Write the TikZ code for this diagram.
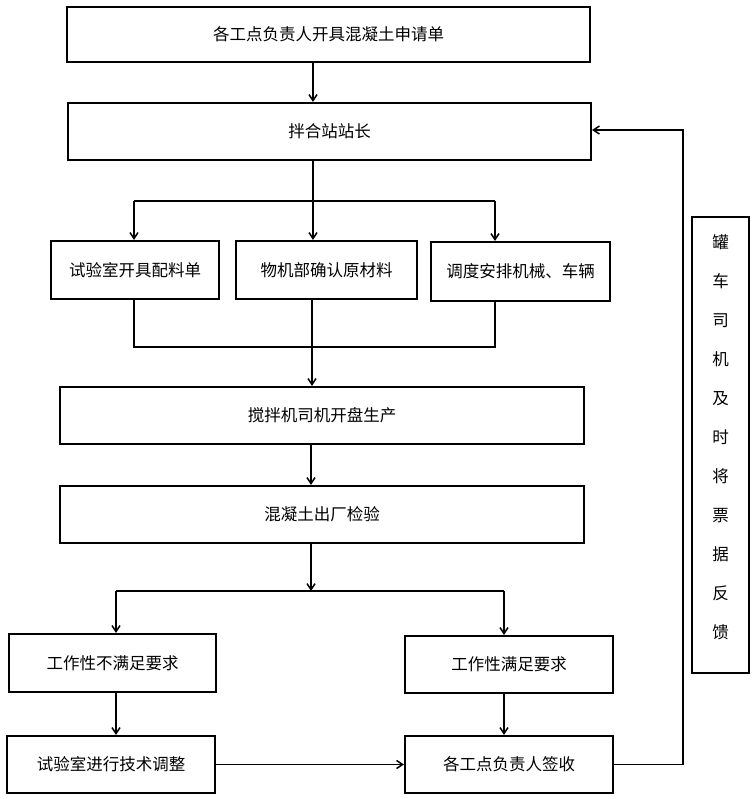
\documentclass[tikz,border=0pt]{standalone}
\usepackage{fontspec}
\setmainfont{Noto Sans CJK SC}
\usetikzlibrary{arrows.meta, positioning}

\begin{document}
\begin{tikzpicture}[x=1pt, y=-1pt, line width=1.5pt,
    >={Straight Barb[length=6pt,width=8pt]},
    box/.style={draw, rectangle, line width=2.2pt, inner sep=0pt, font=\fontsize{16.5}{16.5}\selectfont}]
    \useasboundingbox (0,0) rectangle (755,799);
            \node[box, minimum width=523, minimum height=55] (req) at (328.5,34.5) {各工点负责人开具混凝土申请单};
            \node[box, minimum width=523, minimum height=57] (head) at (329.5,131.5) {拌合站站长};
            \node[box, minimum width=168, minimum height=58] (lab) at (135,270) {试验室开具配料单};
            \node[box, minimum width=181, minimum height=58] (mat) at (326.5,270) {物机部确认原材料};
            \node[box, minimum width=179, minimum height=59] (disp) at (520.5,271.5) {调度安排机械、车辆};
            \node[box, minimum width=524, minimum height=57] (mix) at (322,415.5) {搅拌机司机开盘生产};
            \node[box, minimum width=524, minimum height=57] (qc) at (322,514.5) {混凝土出厂检验};
            \node[box, minimum width=207, minimum height=58] (fail) at (112.5,663) {工作性不满足要求};
            \node[box, minimum width=208, minimum height=57] (pass) at (509,664.5) {工作性满足要求};
            \node[box, minimum width=208, minimum height=57] (adj) at (111,764.5) {试验室进行技术调整};
            \node[box, minimum width=208, minimum height=57] (sign) at (509,764.5) {各工点负责人签收};
            \node[box, minimum width=57, minimum height=456] (fb) at (720.5,445) {};
            \node[align=center, inner sep=0pt, font=\fontsize{16.5}{39}\selectfont] (fbtext) at (720.5,437) {罐\\车\\司\\机\\及\\时\\将\\票\\据\\反\\馈};
            % junction points
            \coordinate (c1) at (313,201);
            \coordinate (c1l) at (134,201);
            \coordinate (c1r) at (495,201);
            \coordinate (c2) at (312,347);
            \coordinate (c3) at (311,591);
            \coordinate (c3l) at (116,591);
            \coordinate (c3r) at (504,591);
            \coordinate (c4) at (683,130);
            \draw[->] (req.south -| c1) -- (head.north -| c1);
            \draw (head.south -| c1) -- (c1);
            \draw (c1l) -- (c1r);
            \draw[->] (c1l) -- (lab.north -| c1l);
            \draw[->] (c1) -- (mat.north -| c1);
            \draw[->] (c1r) -- (disp.north -| c1r);
            \draw (lab.south -| c1l) -- (c2 -| c1l) -- (c2 -| c1r) -- (disp.south -| c1r);
            \draw (mat.south -| c2) -- (c2);
            \draw[->] (c2) -- (mix.north -| c2);
            \draw[->] (mix.south -| c3) -- (qc.north -| c3);
            \draw[->] (qc.south -| c3) -- (c3);
            \draw (c3l) -- (c3r);
            \draw[->] (c3l) -- (fail.north -| c3l);
            \draw[->] (c3r) -- (pass.north -| c3r);
            \draw[->] (fail.south -| c3l) -- (adj.north -| c3l);
            \draw[->] (pass.south -| c3r) -- (sign.north -| c3r);
            \draw[->] (adj) -- (sign);
            \draw[->] (sign.east) -- (sign.east -| c4) -- (c4) -- (head.east |- c4);
        \end{tikzpicture}
\end{document}
